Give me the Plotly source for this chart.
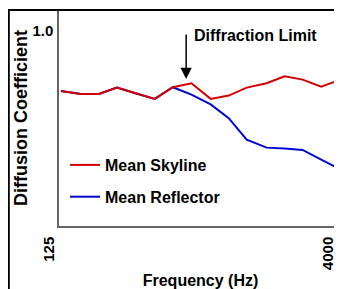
import math
import plotly.graph_objects as go

# ---- data ----
freq_hz = [125, 160, 200, 250, 315, 400, 500, 630, 800, 1000, 1250, 1600, 2000, 2500, 3150, 4000]
mean_skyline = [0.693, 0.677, 0.677, 0.710, 0.681, 0.652, 0.712, 0.732, 0.652, 0.669,
                0.710, 0.732, 0.768, 0.751, 0.715, 0.751]
mean_reflector = [0.693, 0.677, 0.677, 0.710, 0.681, 0.652, 0.712, 0.674, 0.624, 0.553,
                  0.443, 0.402, 0.398, 0.390, 0.340, 0.290]
x_tick_vals = [125, 4000]
x_tick_text = ["125", "4000"]
y_tick_vals = [1.0]
y_tick_text = ["1.0"]
diffraction_limit_hz = 590
diffraction_arrow_tip = 0.754

FONT = "Liberation Sans, Arial, sans-serif"
RED = "#d40000"
BLUE = "#0008d0"

fig = go.Figure()
fig.add_trace(go.Scatter(x=freq_hz, y=mean_reflector, mode="lines", name="Mean Reflector",
                         line=dict(color=BLUE, width=2), legendrank=2, legendgroup="b"))
fig.add_trace(go.Scatter(x=freq_hz, y=mean_skyline, mode="lines", name="Mean Skyline",
                         line=dict(color=RED, width=2), legendrank=1, legendgroup="a"))

# page body has an 8px margin, so the figure is 8px smaller than the window
W, H = 334, 281
L, R, T, B = 51, 0, 2, 63
pw, ph = W - L - R, H - T - B

def px_x(p):
    return (p - L) / pw

def px_y(p):
    return (H - B - p) / ph

fig.update_layout(
    width=W, height=H,
    margin=dict(l=L, r=R, t=T, b=B, pad=0),
    paper_bgcolor="white", plot_bgcolor="white",
    font=dict(family=FONT, color="black"),
    showlegend=True,
    legend=dict(x=px_x(57), y=px_y(140), xanchor="left", yanchor="top",
                bgcolor="rgba(0,0,0,0)", traceorder="grouped", tracegroupgap=8,
                font=dict(size=16, weight="bold", family=FONT)),
    xaxis=dict(type="log", range=[math.log10(125) - 2 / 55.9 * math.log10(2),
                                  math.log10(125) + 281 / 55.9 * math.log10(2)],
               showline=True, linecolor="#666", linewidth=1.5, showgrid=False, zeroline=False,
               tickvals=x_tick_vals, ticktext=x_tick_text, tickangle=-90, ticks="",
               ticklabelshift=-12, ticklabelstandoff=3,
               tickfont=dict(size=15, weight="bold", family=FONT),
               title=dict(text="Frequency (Hz)", font=dict(size=16, weight="bold", family=FONT),
                          standoff=6)),
    yaxis=dict(range=[0, 1.108], showline=True, linecolor="#666", linewidth=1.5,
               showgrid=False, zeroline=False, tickvals=y_tick_vals, ticktext=y_tick_text,
               ticks="", ticklabelstandoff=1,
               tickfont=dict(size=15, weight="bold", family=FONT),
               title=dict(text="Diffusion Coefficient", font=dict(size=18, weight="bold", family=FONT),
                          standoff=0)),
)

# outer frame (cropped figure border)
fig.add_shape(type="line", xref="paper", yref="paper", x0=px_x(0), x1=1.2, y0=1, y1=1,
              line=dict(color="black", width=1.8), layer="above")
fig.add_shape(type="line", xref="paper", yref="paper", x0=px_x(0.9), x1=px_x(0.9), y0=1, y1=-0.5,
              line=dict(color="black", width=1.8), layer="above")

# diffraction limit arrow and label
fig.add_annotation(x=math.log10(diffraction_limit_hz), y=diffraction_arrow_tip, xref="x", yref="y",
                   text="", showarrow=True, arrowhead=2, arrowsize=1.5, arrowwidth=1.5,
                   arrowcolor="black", ax=0, ay=-46, standoff=0, font=dict(size=1))
fig.add_annotation(x=px_x(184), y=px_y(28), xref="paper", yref="paper", xanchor="left",
                   yanchor="middle", text="<b>Diffraction Limit</b>", showarrow=False,
                   font=dict(size=16, family=FONT, color="black"))

fig.write_html("out.html")
